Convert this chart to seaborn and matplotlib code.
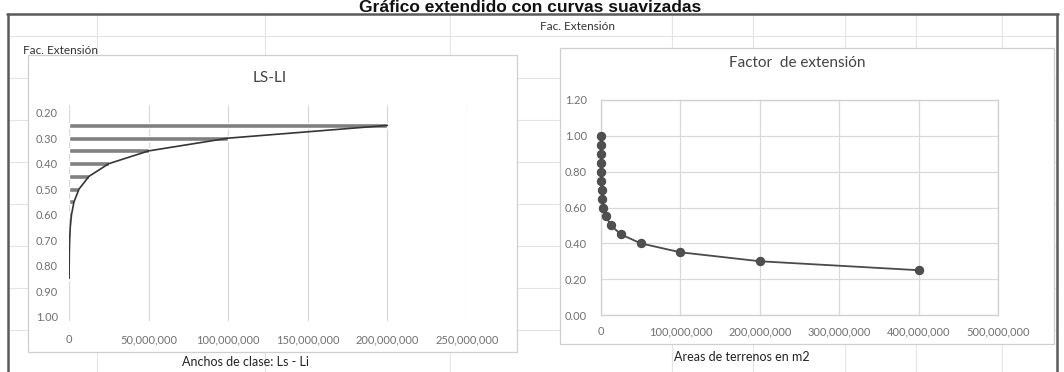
import matplotlib
matplotlib.use("Agg")
import matplotlib.pyplot as plt
import seaborn as sns
from matplotlib.lines import Line2D
from matplotlib.patches import Rectangle
from matplotlib.ticker import FuncFormatter

# ---------------- data ----------------
left_factors = [0.25, 0.30, 0.35, 0.40, 0.45, 0.50, 0.55, 0.60, 0.65, 0.70, 0.75, 0.80, 0.85]
left_widths = [200000000, 100000000, 50000000, 25000000, 12500000, 6250000, 3125000,
               1562500, 781250, 390625, 195313, 97656, 48828]

right_factors = [0.25, 0.30, 0.35, 0.40, 0.45, 0.50, 0.55, 0.60, 0.65, 0.70, 0.75, 0.80,
                 0.85, 0.90, 0.95, 1.00]
right_areas = [400000000, 200000000, 100000000, 50000000, 25000000, 12500000, 6250000,
               3125000, 1562500, 781250, 390625, 195313, 97656, 48828, 24414, 12207]

left_xticks = [0, 50000000, 100000000, 150000000, 200000000, 250000000]
left_yticks = [0.20, 0.30, 0.40, 0.50, 0.60, 0.70, 0.80, 0.90, 1.00]
right_xticks = [0, 100000000, 200000000, 300000000, 400000000, 500000000]
right_yticks = [0.00, 0.20, 0.40, 0.60, 0.80, 1.00, 1.20]

main_title = "Gráfico extendido con curvas suavizadas"
sheet_label = "Fac. Extensión"
left_title = "LS-LI"
left_xlabel = "Anchos de clase: Ls - Li"
right_title = "Factor  de extensión"
right_xlabel = "Areas de terrenos en m2"

# ---------------- style ----------------
sns.set_theme(style="white")
plt.rcParams["font.family"] = ["Lato", "DejaVu Sans"]

W, H = 1064, 372
fig = plt.figure(figsize=(W / 100, H / 100), dpi=100)
fig.patch.set_facecolor("white")


def fx(px):
    return px / W


def fy(py):
    return 1 - py / H


def hline(y, x0, x1, color, lw):
    fig.add_artist(Line2D([fx(x0), fx(x1)], [fy(y), fy(y)], color=color, lw=lw,
                          transform=fig.transFigure, zorder=0))


def vline(x, y0, y1, color, lw):
    fig.add_artist(Line2D([fx(x), fx(x)], [fy(y0), fy(y1)], color=color, lw=lw,
                          transform=fig.transFigure, zorder=0))


# faint spreadsheet cell grid
grid_c = "#e4e4e4"
for y in [36, 78, 120, 162, 204, 246, 288, 330]:
    hline(y, 8, 1057, grid_c, 0.8)
for x in [97, 265, 450, 672, 753, 845, 916, 1002]:
    vline(x, 14, 372, grid_c, 0.8)

# outer thick frame
frame_c = "#5a5a5a"
hline(14, 7, 1058, frame_c, 1.8)
vline(8, 14, 372, frame_c, 1.8)
vline(1057, 14, 372, frame_c, 1.8)

# chart boxes (white) drawn above the cell grid
for (x0, y0, x1, y1) in [(28, 55, 517, 352), (560, 48, 1054, 344)]:
    fig.add_artist(Rectangle((fx(x0), fy(y1)), fx(x1) - fx(x0), fy(y0) - fy(y1),
                             transform=fig.transFigure, facecolor="white",
                             edgecolor="#cfcfcf", lw=0.9, zorder=0.5))

# texts
fig.text(fx(530), fy(11.5), main_title, ha="center", va="baseline", fontsize=12.5,
         fontweight="bold", color="#111111", family=["Liberation Sans", "DejaVu Sans"])
fig.text(fx(578), fy(27), sheet_label, ha="center", va="center", fontsize=8.5, color="#333333")
fig.text(fx(23), fy(50), sheet_label, ha="left", va="center", fontsize=8.5, color="#333333")

tick_c = "#707070"
grid_line_c = "#d9d9d9"

# ---------------- left chart ----------------
axL = fig.add_axes([fx(69), fy(320.5), fx(467) - fx(69), fy(105) - fy(320.5)])
axL.set_zorder(2)
axL.patch.set_alpha(0)
sns.barplot(x=left_widths, y=left_factors, orient="y", native_scale=True, width=0.38,
            color="#808080", saturation=1, errorbar=None, ax=axL, zorder=2)
sns.lineplot(x=left_widths, y=left_factors, color="#353535", lw=1.2, ax=axL, zorder=3)
axL.set_xlim(0, 250000000)
axL.set_ylim(1.015, 0.17)
axL.set_xticks(left_xticks)
axL.set_yticks(left_yticks)
axL.xaxis.set_major_formatter(FuncFormatter(lambda v, p: f"{v:,.0f}"))
axL.yaxis.set_major_formatter(FuncFormatter(lambda v, p: f"{v:.2f}"))
axL.grid(True, axis="x", color=grid_line_c, lw=0.9)
axL.grid(False, axis="y")
axL.set_axisbelow(True)
for s in axL.spines.values():
    s.set_visible(False)
axL.tick_params(length=0, labelsize=8, labelcolor=tick_c)
axL.tick_params(axis="x", pad=10)
axL.tick_params(axis="y", pad=8)
axL.set_xlabel("")
axL.set_ylabel("")
fig.text(fx(270), fy(78), left_title, ha="center", va="center", fontsize=11, color="#444444")
fig.text(fx(246), fy(362), left_xlabel, ha="center", va="center", fontsize=9, color="#222222")

# ---------------- right chart ----------------
axR = fig.add_axes([fx(601), fy(315), fx(998) - fx(601), fy(100) - fy(315)])
axR.set_zorder(2)
axR.patch.set_alpha(0)
sns.lineplot(x=right_areas, y=right_factors, color="#4a4a4a", lw=1.3, marker="o",
             markersize=6, markeredgecolor="#4a4a4a", markerfacecolor="#505050",
             ax=axR, zorder=3, clip_on=False)
axR.set_xlim(0, 500000000)
axR.set_ylim(0, 1.2)
axR.set_xticks(right_xticks)
axR.set_yticks(right_yticks)
axR.xaxis.set_major_formatter(FuncFormatter(lambda v, p: f"{v:,.0f}"))
axR.yaxis.set_major_formatter(FuncFormatter(lambda v, p: f"{v:.2f}"))
axR.grid(True, color=grid_line_c, lw=0.9)
axR.set_axisbelow(True)
for s in axR.spines.values():
    s.set_visible(True)
    s.set_color("#cfcfcf")
    s.set_linewidth(0.9)
axR.tick_params(length=0, labelsize=8, labelcolor=tick_c)
axR.tick_params(axis="x", pad=8)
axR.tick_params(axis="y", pad=10)
axR.set_xlabel("")
axR.set_ylabel("")
fig.text(fx(797), fy(63), right_title, ha="center", va="center", fontsize=11, color="#444444")
fig.text(fx(742), fy(357), right_xlabel, ha="center", va="center", fontsize=9, color="#222222")

fig.savefig("out.png", dpi=100, facecolor="white")
